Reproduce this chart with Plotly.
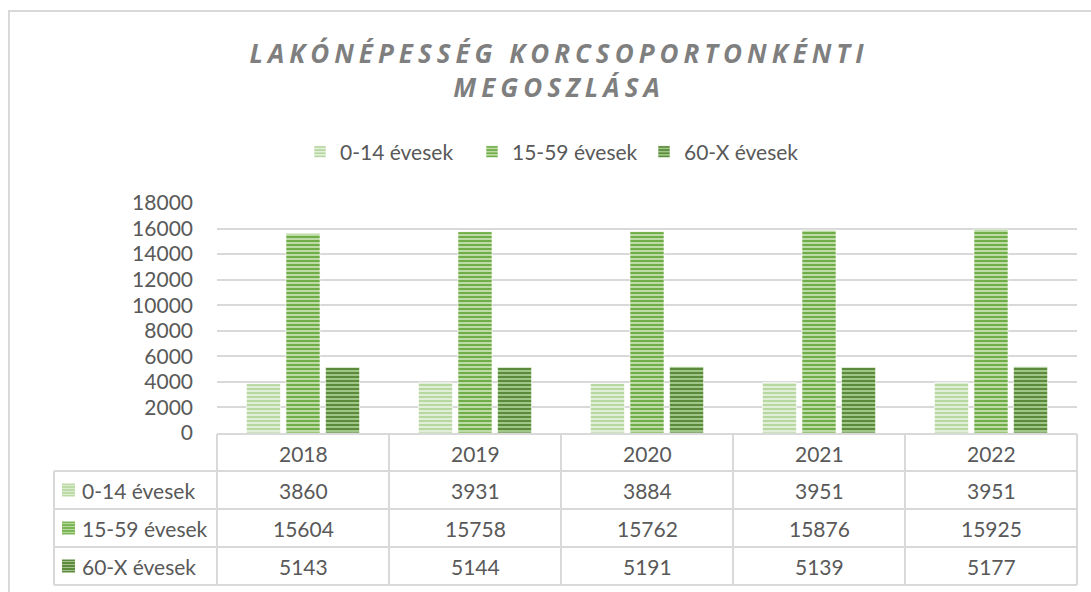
import plotly.graph_objects as go

years = ["2018", "2019", "2020", "2021", "2022"]
series_names = ["0-14 évesek", "15-59 évesek", "60-X évesek"]
v_0_14 = [3860, 3931, 3884, 3951, 3951]
v_15_59 = [15604, 15758, 15762, 15876, 15925]
v_60_x = [5143, 5144, 5191, 5139, 5177]
title_text = "LAKÓNÉPESSÉG KORCSOPORTONKÉNTI<br>MEGOSZLÁSA"
y_ticks = [0, 2000, 4000, 6000, 8000, 10000, 12000, 14000, 16000, 18000]

values = [v_0_14, v_15_59, v_60_x]
fg_colors = ["#b7d8a0", "#70ad47", "#5a8a3a"]
bg_colors = ["#e6f1de", "#c4e0b0", "#a8cc90"]
key_colors = ["#bcdba6", "#7cb655", "#5d8d3c"]

W, H = 1091, 592
L, R, T, B = 217, 1077, 203, 433


def px_x(px):
    return (px - L) / (R - L)


def px_y(py):
    return (B - py) / (B - T)


fig = go.Figure()
for name, vals, fg, bg in zip(series_names, values, fg_colors, bg_colors):
    fig.add_trace(go.Bar(
        x=years, y=vals, name=name,
        marker=dict(color=bg, line=dict(color="rgba(255,255,255,0.6)", width=1),
                    pattern=dict(shape="-", fgcolor=fg, bgcolor=bg, size=4, solidity=0.55,
                                 fillmode="replace")),
        hoverinfo="x+y+name",
    ))

grid = "#d9d9d9"
txt = "#595959"
font_fam = "Lato, Liberation Sans, sans-serif"
fsize = 21

shapes = []
# outer chart border
shapes.append(dict(type="rect", xref="paper", yref="paper",
                   x0=px_x(9), x1=px_x(1100), y0=px_y(11), y1=px_y(600),
                   line=dict(color=grid, width=2), layer="below"))
# table lines
col_edges = [L + k * (R - L) / 5 for k in range(6)]
row_lines = [434, 471, 509, 547, 585]
for i, yy in enumerate(row_lines):
    x0 = L if i == 0 else 54
    shapes.append(dict(type="line", xref="paper", yref="paper",
                       x0=px_x(x0), x1=px_x(R), y0=px_y(yy), y1=px_y(yy),
                       line=dict(color=grid, width=2)))
for cx in col_edges:
    shapes.append(dict(type="line", xref="paper", yref="paper",
                       x0=px_x(cx), x1=px_x(cx), y0=px_y(434), y1=px_y(585),
                       line=dict(color=grid, width=2)))
shapes.append(dict(type="line", xref="paper", yref="paper",
                   x0=px_x(54), x1=px_x(54), y0=px_y(471), y1=px_y(585),
                   line=dict(color=grid, width=2)))

annotations = []
tfont = dict(family=font_fam, size=fsize, color=txt)
for j, yr in enumerate(years):
    annotations.append(dict(x=j, xref="x", y=px_y(453), yref="paper", text=yr,
                            showarrow=False, font=tfont, xanchor="center", yanchor="middle"))
row_mid = [490, 528, 566]
for i, (name, vals) in enumerate(zip(series_names, values)):
    ym = row_mid[i]
    for j, yr in enumerate(years):
        annotations.append(dict(x=j, xref="x", y=px_y(ym), yref="paper", text=str(vals[j]),
                                showarrow=False, font=tfont, xanchor="center", yanchor="middle"))
    annotations.append(dict(x=px_x(80), xref="paper", y=px_y(ym), yref="paper", text=name,
                            showarrow=False, font=tfont, xanchor="left", yanchor="middle"))
    shapes.append(dict(type="rect", xref="paper", yref="paper",
                       x0=px_x(62), x1=px_x(75), y0=px_y(ym - 6.5), y1=px_y(ym + 6.5),
                       fillcolor=key_colors[i], line=dict(width=0)))
    for k in range(4):
        yy = ym - 4.5 + k * 3
        shapes.append(dict(type="line", xref="paper", yref="paper",
                           x0=px_x(62), x1=px_x(75), y0=px_y(yy), y1=px_y(yy),
                           line=dict(color="rgba(255,255,255,0.45)", width=1)))

fig.update_layout(
    width=W, height=H,
    margin=dict(l=L, r=W - R, t=T, b=H - B, autoexpand=False),
    paper_bgcolor="white", plot_bgcolor="white",
    title=dict(text=title_text, x=559 / W, xanchor="center", y=1 - 63 / H, yanchor="top",
               font=dict(family="Open Sans, sans-serif", size=26, color="#7f7f7f",
                         style="italic", weight="bold")),
    barmode="group", bargap=0.31, bargroupgap=0.14,
    legend=dict(orientation="h", x=px_x(300), xanchor="left", y=px_y(152), yanchor="middle",
                font=dict(family=font_fam, size=fsize, color=txt), entrywidth=127,
                bgcolor="rgba(0,0,0,0)"),
    xaxis=dict(type="category", range=[-0.5, 4.5], showticklabels=False, showline=True,
               linecolor=grid, linewidth=2, ticks="", showgrid=False, zeroline=False),
    yaxis=dict(range=[0, 18000], tickvals=y_ticks, ticktext=[str(v) for v in y_ticks],
               showgrid=True, gridcolor=grid, gridwidth=2,
               zeroline=False, showline=False, ticks="", ticklabelstandoff=23,
               tickfont=dict(family=font_fam, size=fsize, color=txt)),
    shapes=shapes, annotations=annotations,
)

post = ("document.body.style.margin='0';"
        "document.querySelectorAll('.gtitle').forEach(function(e){e.style.letterSpacing='5px';});")
fig.write_html("out.html", post_script=post, config={"displayModeBar": False})
